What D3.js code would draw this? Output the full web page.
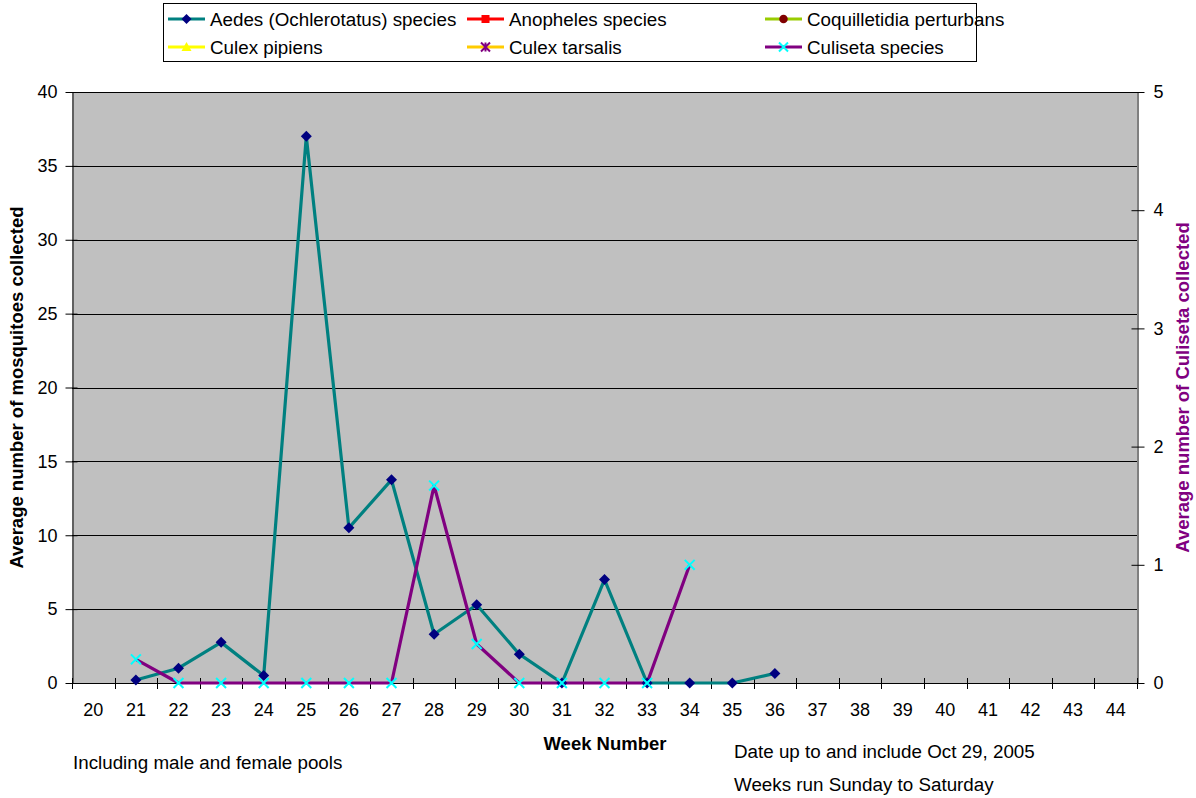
<!DOCTYPE html>
<html>
<head>
<meta charset="utf-8">
<script src="https://cdn.jsdelivr.net/npm/d3@7"></script>
<style>
  html, body { margin: 0; padding: 0; background: #ffffff; }
  svg { display: block; font-family: "Liberation Sans", Arial, sans-serif; }
</style>
</head>
<body>
<svg id="chart" width="1196" height="798"></svg>
<script>
// Week numbers on the category axis
const weeks = [20, 21, 22, 23, 24, 25, 26, 27, 28, 29, 30, 31, 32, 33, 34, 35, 36, 37, 38, 39, 40, 41, 42, 43, 44];

// Average counts per week (null = no trapping that week)
const aedes          = [null, 0.2, 1.0, 2.75, 0.5, 37, 10.5, 13.75, 3.3, 5.3, 1.95, 0, 7, 0, 0, 0, 0.65, null, null, null, null, null, null, null, null];
const anopheles      = [null, null, null, null, null, null, null, null, null, null, null, null, null, null, null, null, null, null, null, null, null, null, null, null, null];
const coquillettidia = [null, null, null, null, null, null, null, null, null, null, null, null, null, null, null, null, null, null, null, null, null, null, null, null, null];
const culexPipiens   = [null, null, null, null, null, null, null, null, null, null, null, null, null, null, null, null, null, null, null, null, null, null, null, null, null];
const culexTarsalis  = [null, null, null, null, null, null, null, null, null, null, null, null, null, null, null, null, null, null, null, null, null, null, null, null, null];
// Culiseta is plotted against the secondary (right) axis
const culiseta       = [null, 0.2, 0, 0, 0, 0, 0, 0, 1.67, 0.33, 0, 0, 0, 0, 1, null, null, null, null, null, null, null, null, null, null];

// Axis tick values
const leftTicks  = [0, 5, 10, 15, 20, 25, 30, 35, 40];
const rightTicks = [0, 1, 2, 3, 4, 5];

const series = [
  { name: "Aedes (Ochlerotatus) species", values: aedes,          axis: "left",  line: "#008080", marker: "diamond",  mcolor: "#000080" },
  { name: "Anopheles species",            values: anopheles,      axis: "left",  line: "#FF0000", marker: "square",   mcolor: "#FF0000" },
  { name: "Coquilletidia perturbans",     values: coquillettidia, axis: "left",  line: "#99CC00", marker: "circle",   mcolor: "#800000" },
  { name: "Culex pipiens",                values: culexPipiens,   axis: "left",  line: "#FFFF00", marker: "triangle", mcolor: "#FFFF00" },
  { name: "Culex tarsalis",               values: culexTarsalis,  axis: "left",  line: "#FFCC00", marker: "star",     mcolor: "#800080" },
  { name: "Culiseta species",             values: culiseta,       axis: "right", line: "#800080", marker: "cross",    mcolor: "#00FFFF" }
];

const svg = d3.select("#chart");
const plot = { left: 72, right: 1137, top: 92, bottom: 683 };

const x = d3.scaleBand().domain(weeks).range([plot.left, plot.right]).padding(0);
const yL = d3.scaleLinear().domain([0, 40]).range([plot.bottom, plot.top]);
const yR = d3.scaleLinear().domain([0, 5]).range([plot.bottom, plot.top]);
const cx = w => x(w) + x.bandwidth() / 2;

// Plot area background
svg.append("rect")
  .attr("x", plot.left).attr("y", plot.top)
  .attr("width", plot.right - plot.left).attr("height", plot.bottom - plot.top)
  .attr("fill", "#C0C0C0");

// Horizontal gridlines from the primary axis
svg.append("g").selectAll("line").data(leftTicks.filter(d => d > 0)).join("line")
  .attr("x1", plot.left).attr("x2", plot.right)
  .attr("y1", d => Math.round(yL(d)) + 0.5).attr("y2", d => Math.round(yL(d)) + 0.5)
  .attr("stroke", "#000").attr("stroke-width", 1);

// Left axis
const leftAxis = d3.axisLeft(yL).tickValues(leftTicks).tickSizeInner(7).tickSizeOuter(0).tickPadding(8);
const gL = svg.append("g").attr("transform", `translate(${plot.left + 0.5},0)`).call(leftAxis);
gL.select(".domain").attr("stroke", "#000");
gL.selectAll(".tick line").attr("stroke", "#000").attr("x2", 5).attr("x1", -7);
gL.selectAll(".tick text").attr("font-size", 18).attr("fill", "#000").attr("font-family", "Liberation Sans, Arial, sans-serif");

// Right axis
const rightAxis = d3.axisRight(yR).tickValues(rightTicks).tickSizeInner(7).tickSizeOuter(0).tickPadding(9).tickFormat(d3.format("d"));
const gR = svg.append("g").attr("transform", `translate(${plot.right + 0.5},0)`).call(rightAxis);
gR.select(".domain").attr("stroke", "#000");
gR.selectAll(".tick line").attr("stroke", "#000").attr("x1", -6);
gR.selectAll(".tick text").attr("font-size", 18).attr("fill", "#000").attr("font-family", "Liberation Sans, Arial, sans-serif");

// Bottom category axis: ticks between categories
const gB = svg.append("g");
gB.append("line")
  .attr("x1", plot.left).attr("x2", plot.right)
  .attr("y1", plot.bottom + 0.5).attr("y2", plot.bottom + 0.5)
  .attr("stroke", "#000");
const boundaries = weeks.map(w => x(w)).concat([plot.right]);
gB.selectAll("line.tk").data(boundaries).join("line").attr("class", "tk")
  .attr("x1", d => Math.round(d) + 0.5).attr("x2", d => Math.round(d) + 0.5)
  .attr("y1", plot.bottom - 5).attr("y2", plot.bottom + 6)
  .attr("stroke", "#000");
gB.selectAll("text").data(weeks).join("text")
  .attr("x", d => cx(d)).attr("y", plot.bottom + 33)
  .attr("text-anchor", "middle").attr("font-size", 18).attr("fill", "#000")
  .text(d => d);

// Marker shapes
function drawMarker(g, type, color, px, py, size) {
  const s = size;
  if (type === "diamond") {
    g.append("path").attr("d", `M${px},${py - s}L${px + s},${py}L${px},${py + s}L${px - s},${py}Z`).attr("fill", color);
  } else if (type === "square") {
    g.append("rect").attr("x", px - s * 0.8).attr("y", py - s * 0.8).attr("width", s * 1.6).attr("height", s * 1.6).attr("fill", color);
  } else if (type === "circle") {
    g.append("circle").attr("cx", px).attr("cy", py).attr("r", s * 0.85).attr("fill", color);
  } else if (type === "triangle") {
    g.append("path").attr("d", `M${px},${py - s}L${px + s},${py + s * 0.8}L${px - s},${py + s * 0.8}Z`).attr("fill", color);
  } else if (type === "star") {
    const r = s * 0.9;
    g.append("path")
      .attr("d", `M${px - r},${py - r}L${px + r},${py + r}M${px + r},${py - r}L${px - r},${py + r}M${px},${py - r}L${px},${py + r}`)
      .attr("stroke", color).attr("stroke-width", 2).attr("fill", "none");
  } else if (type === "cross") {
    const r = s * 0.9;
    g.append("path")
      .attr("d", `M${px - r},${py - r}L${px + r},${py + r}M${px + r},${py - r}L${px - r},${py + r}`)
      .attr("stroke", color).attr("stroke-width", 2).attr("fill", "none");
  }
}

// Series lines and markers
const gSeries = svg.append("g");
series.forEach(s => {
  const y = s.axis === "left" ? yL : yR;
  const pts = weeks.map((w, i) => ({ w, v: s.values[i] }));
  const line = d3.line().defined(d => d.v !== null).x(d => cx(d.w)).y(d => y(d.v));
  gSeries.append("path").datum(pts)
    .attr("d", line).attr("fill", "none")
    .attr("stroke", s.line).attr("stroke-width", 3.2).attr("stroke-linejoin", "round");
  s.points = pts.filter(d => d.v !== null);
});
series.forEach(s => {
  const y = s.axis === "left" ? yL : yR;
  const g = gSeries.append("g");
  s.points.forEach(d => drawMarker(g, s.marker, s.mcolor, cx(d.w), y(d.v), 5.5));
});

// Legend
const legend = svg.append("g");
legend.append("rect").attr("x", 163.5).attr("y", 3.5).attr("width", 813).attr("height", 58)
  .attr("fill", "#fff").attr("stroke", "#000");
const colX = [168, 467, 765];
const rowY = [19, 47];
series.forEach((s, i) => {
  const lx = colX[i % 3], ly = rowY[Math.floor(i / 3)];
  const g = legend.append("g");
  g.append("line").attr("x1", lx).attr("x2", lx + 37).attr("y1", ly).attr("y2", ly)
    .attr("stroke", s.line).attr("stroke-width", 3.2);
  drawMarker(g, s.marker, s.mcolor, lx + 18.5, ly, 5);
  g.append("text").attr("x", lx + 42).attr("y", ly + 7)
    .attr("font-size", 18.8).attr("fill", "#000").text(s.name);
});

// Axis titles
svg.append("text")
  .attr("transform", `translate(23,${(plot.top + plot.bottom) / 2}) rotate(-90)`)
  .attr("text-anchor", "middle").attr("font-size", 18.5).attr("font-weight", "bold").attr("fill", "#000")
  .text("Average number of mosquitoes collected");
svg.append("text")
  .attr("transform", `translate(1189,${(plot.top + plot.bottom) / 2}) rotate(-90)`)
  .attr("text-anchor", "middle").attr("font-size", 18.5).attr("font-weight", "bold").attr("fill", "#800080")
  .text("Average number of Culiseta collected");
svg.append("text")
  .attr("x", 605).attr("y", 750)
  .attr("text-anchor", "middle").attr("font-size", 18.5).attr("font-weight", "bold").attr("fill", "#000")
  .text("Week Number");

// Notes
const notes = [
  { x: 73,  y: 769, t: "Including male and female pools" },
  { x: 734, y: 758, t: "Date up to and include Oct 29, 2005" },
  { x: 734, y: 791, t: "Weeks run Sunday to Saturday" }
];
svg.append("g").selectAll("text").data(notes).join("text")
  .attr("x", d => d.x).attr("y", d => d.y)
  .attr("font-size", 18.8).attr("fill", "#000")
  .text(d => d.t);
</script>
</body>
</html>
